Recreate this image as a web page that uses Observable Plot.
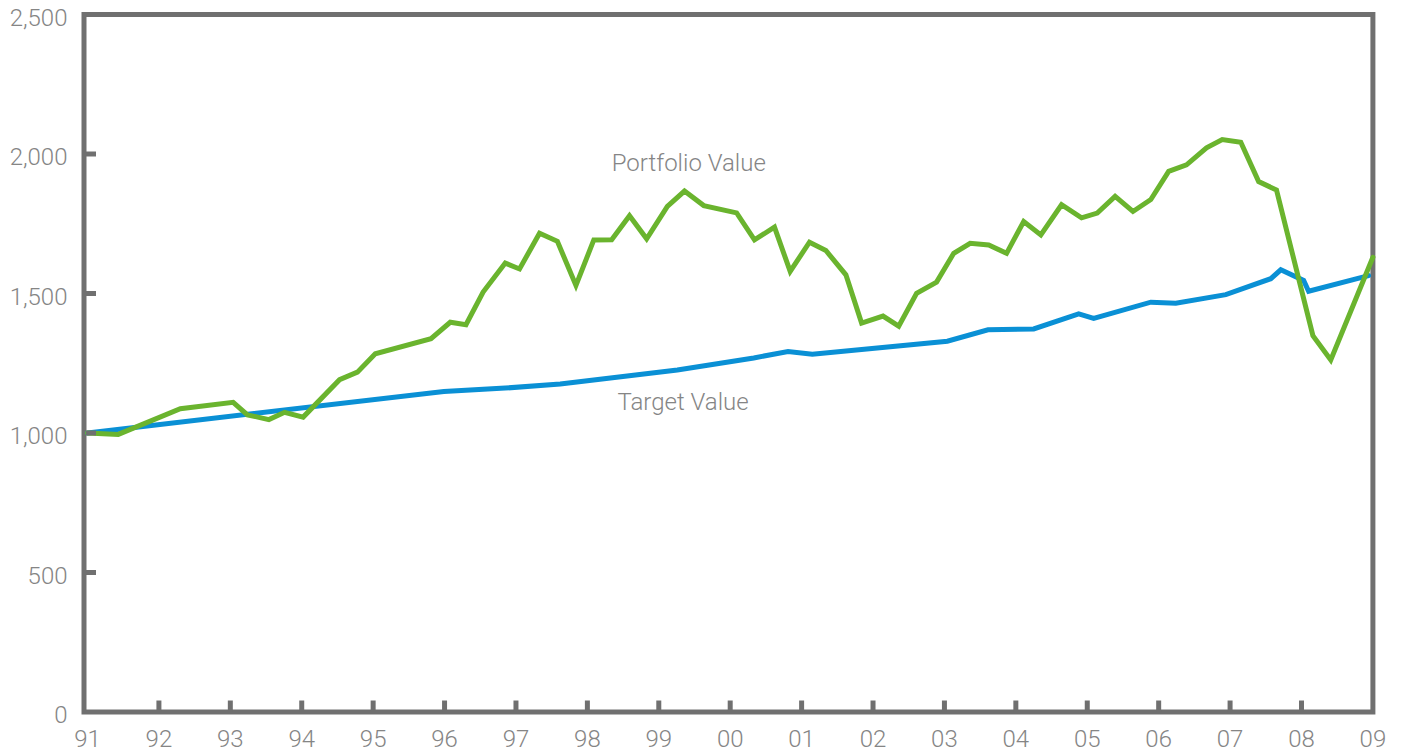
<!DOCTYPE html>
<html>
<head>
<meta charset="utf-8">
<script src="https://cdn.jsdelivr.net/npm/d3@7"></script>
<script src="https://cdn.jsdelivr.net/npm/@observablehq/plot@0.6"></script>
<style>
  html, body { margin: 0; padding: 0; background: #ffffff; }
  #chart { width: 1403px; height: 755px; }
</style>
</head>
<body>
<div id="chart"></div>
<script>
// Portfolio value (green) — decimal years and values
const portfolioYears = [1991.00, 1991.43, 1992.30, 1993.04, 1993.24, 1993.54, 1993.76, 1994.02, 1994.53, 1994.78,
  1995.03, 1995.81, 1996.08, 1996.30, 1996.54, 1996.85, 1997.05, 1997.33, 1997.58, 1997.84,
  1998.09, 1998.34, 1998.59, 1998.83, 1999.12, 1999.36, 1999.63, 2000.09, 2000.34, 2000.62,
  2000.84, 2001.11, 2001.34, 2001.62, 2001.84, 2002.14, 2002.36, 2002.61, 2002.89, 2003.13,
  2003.36, 2003.62, 2003.87, 2004.11, 2004.35, 2004.64, 2004.92, 2005.14, 2005.39, 2005.64,
  2005.89, 2006.14, 2006.39, 2006.67, 2006.89, 2007.15, 2007.40, 2007.65, 2008.16, 2008.41, 2009.00];
const portfolioValues = [1000, 995, 1087, 1110, 1065, 1048, 1074, 1057, 1191, 1218,
  1284, 1338, 1397, 1388, 1505, 1609, 1588, 1716, 1687, 1529,
  1692, 1693, 1779, 1696, 1812, 1867, 1815, 1789, 1692, 1738,
  1579, 1684, 1654, 1567, 1394, 1419, 1383, 1501, 1541, 1644,
  1680, 1674, 1644, 1758, 1710, 1818, 1771, 1788, 1848, 1794,
  1837, 1938, 1961, 2022, 2052, 2042, 1901, 1871, 1349, 1262, 1630];

// Target value (blue)
const targetYears = [1991.00, 1995.99, 1996.85, 1997.62, 1999.26, 2000.33, 2000.81, 2001.15, 2003.04, 2003.61,
  2004.25, 2004.88, 2005.09, 2005.89, 2006.24, 2006.94, 2007.57, 2007.71, 2008.03, 2008.10, 2008.94];
const targetValues = [1000, 1149, 1161, 1176, 1226, 1269, 1292, 1282, 1329, 1370,
  1373, 1427, 1411, 1469, 1465, 1496, 1553, 1585, 1547, 1508, 1564];

// Axis ticks
const xLabelYears = d3.range(1991, 2010);
const xTickYears = d3.range(1992, 2009);
const yLabelValues = [0, 500, 1000, 1500, 2000, 2500];
const yTickValues = [500, 1000, 1500, 2000];

// Series annotations
const seriesLabels = ["Portfolio Value", "Target Value"];
const seriesLabelYears = [1999.42, 1999.34];
const seriesLabelValues = [1966, 1110];

const portfolio = portfolioYears.map((year, i) => ({year, value: portfolioValues[i]}));
const target = targetYears.map((year, i) => ({year, value: targetValues[i]}));
const labels = seriesLabels.map((text, i) => ({text, year: seriesLabelYears[i], value: seriesLabelValues[i]}));

const frameGray = "#707070";
const textGray = "#858585";

const chart = Plot.plot({
  width: 1403,
  height: 755,
  marginLeft: 87,
  marginRight: 30.6,
  marginTop: 14,
  marginBottom: 43.5,
  x: {domain: [1991, 2009], label: null},
  y: {domain: [0, 2500], label: null},
  style: {fontFamily: "Roboto, 'Open Sans', sans-serif", fontWeight: 300, fontSize: "24px", background: "#ffffff", color: textGray},
  marks: [
    Plot.frame({stroke: frameGray, strokeWidth: 5, insetLeft: -3.5}),
    Plot.line(target, {x: "year", y: "value", stroke: "#0a90d5", strokeWidth: 5, strokeLinejoin: "miter", strokeMiterlimit: 10}),
    Plot.line(portfolio, {x: "year", y: "value", stroke: "#6ab42e", strokeWidth: 5, strokeLinejoin: "miter", strokeMiterlimit: 10}),
    Plot.axisX(xTickYears, {tickSize: 11, dy: -11, fill: "none", stroke: frameGray, strokeWidth: 5, label: null}),
    Plot.axisY(yTickValues, {tickSize: 10, dx: 9, fill: "none", stroke: frameGray, strokeWidth: 5, label: null}),
    Plot.axisX(xLabelYears, {tickSize: 0, tickPadding: 17.5, fill: textGray, fontSize: 24, fontWeight: 300,
      tickFormat: d => String(d % 100).padStart(2, "0"), label: null}),
    Plot.axisY(yLabelValues, {tickSize: 0, tickPadding: 20, dy: 3.5, fill: textGray, fontSize: 24, fontWeight: 300,
      tickFormat: d3.format(","), label: null}),
    Plot.text(labels, {x: "year", y: "value", text: "text", fill: textGray, fontSize: 24, fontWeight: 300})
  ]
});
document.getElementById("chart").appendChild(chart);
</script>
</body>
</html>
